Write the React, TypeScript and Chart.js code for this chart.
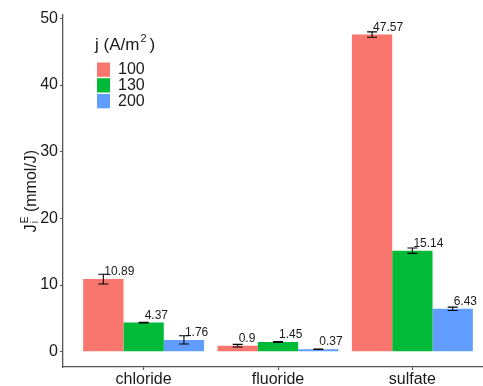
import React, { useEffect, useRef } from "react";
import { Chart, registerables } from "chart.js";

Chart.register(...registerables);

const categories = ["chloride", "fluoride", "sulfate"];
const densityLabels = ["100", "130", "200"];
const values100 = [10.89, 0.9, 47.57];
const values130 = [4.37, 1.45, 15.14];
const values200 = [1.76, 0.37, 6.43];
const errors100 = [0.73, 0.2, 0.4];
const errors130 = [0.05, 0.05, 0.4];
const errors200 = [0.62, 0.04, 0.25];
const yTicks = [0, 10, 20, 30, 40, 50];
const colors = ["#F8766D", "#00BA38", "#619CFF"];

const FONT = "'Liberation Sans', Arial, Helvetica, sans-serif";

const seriesValues = [values100, values130, values200];
const seriesErrors = [errors100, errors130, errors200];

type Part = { t: string; size: number; dy: number; stackWithNext?: boolean; gapAfter?: number };

function drawScripted(
  ctx: CanvasRenderingContext2D,
  parts: Part[],
  x: number,
  y: number,
  align: "left" | "center"
) {
  const widths: number[] = [];
  parts.forEach((p) => {
    ctx.font = `${p.size}px ${FONT}`;
    widths.push(ctx.measureText(p.t).width + (p.gapAfter ?? 0));
  });
  let total = 0;
  for (let i = 0; i < parts.length; i++) {
    if (parts[i].stackWithNext) {
      total += Math.max(widths[i], widths[i + 1]);
      i++;
    } else total += widths[i];
  }
  let cx = align === "center" ? x - total / 2 : x;
  ctx.textAlign = "left";
  ctx.textBaseline = "alphabetic";
  for (let i = 0; i < parts.length; i++) {
    const p = parts[i];
    ctx.font = `${p.size}px ${FONT}`;
    ctx.fillText(p.t, cx, y + p.dy);
    if (p.stackWithNext) {
      const q = parts[i + 1];
      ctx.font = `${q.size}px ${FONT}`;
      ctx.fillText(q.t, cx, y + q.dy);
      cx += Math.max(widths[i], widths[i + 1]);
      i++;
    } else cx += widths[i];
  }
}

const overlayPlugin = {
  id: "overlay",
  afterDatasetsDraw(chart: any) {
    const ctx: CanvasRenderingContext2D = chart.ctx;
    const y = chart.scales.y;
    ctx.save();
    seriesValues.forEach((vals, di) => {
      const meta = chart.getDatasetMeta(di);
      meta.data.forEach((el: any, i: number) => {
        const m = vals[i];
        const e = seriesErrors[di][i];
        const xp = el.x;
        const yt = y.getPixelForValue(m + e);
        const yb = y.getPixelForValue(m - e);
        ctx.strokeStyle = "#000";
        ctx.lineWidth = 1.1;
        ctx.beginPath();
        ctx.moveTo(xp, yt);
        ctx.lineTo(xp, yb);
        ctx.moveTo(xp - 5, yt);
        ctx.lineTo(xp + 5, yt);
        ctx.moveTo(xp - 5, yb);
        ctx.lineTo(xp + 5, yb);
        ctx.stroke();
        ctx.fillStyle = "#1a1a1a";
        ctx.font = `12px ${FONT}`;
        ctx.textAlign = "left";
        ctx.textBaseline = "alphabetic";
        ctx.fillText(String(m), xp + 1, y.getPixelForValue(m) - 4);
      });
    });
    ctx.restore();
  },
  afterDraw(chart: any) {
    const ctx: CanvasRenderingContext2D = chart.ctx;
    const area = chart.chartArea;
    ctx.save();
    ctx.fillStyle = "#1a1a1a";
    // y axis title
    ctx.translate(36, (area.top + area.bottom) / 2);
    ctx.rotate(-Math.PI / 2);
    drawScripted(
      ctx,
      [
        { t: "J", size: 16, dy: 0, gapAfter: 1 },
        { t: "E", size: 10, dy: -8.5, stackWithNext: true },
        { t: "i", size: 10, dy: 2 },
        { t: " (mmol/J)", size: 16, dy: 0 },
      ],
      0,
      0,
      "center"
    );
    ctx.restore();

    // legend
    ctx.save();
    ctx.fillStyle = "#1a1a1a";
    drawScripted(
      ctx,
      [
        { t: "j (A/m", size: 17, dy: 0, gapAfter: 1 },
        { t: "2", size: 11, dy: -7.5, gapAfter: 3 },
        { t: ")", size: 17, dy: 0 },
      ],
      95,
      49.5,
      "left"
    );
    const rowTops = [62.5, 78.2, 94];
    densityLabels.forEach((lab, i) => {
      ctx.fillStyle = colors[i];
      ctx.fillRect(97, rowTops[i], 13, 14.3);
      ctx.fillStyle = "#1a1a1a";
      ctx.font = `16px ${FONT}`;
      ctx.textAlign = "left";
      ctx.textBaseline = "middle";
      ctx.fillText(lab, 118, rowTops[i] + 7.5);
    });
    ctx.restore();
  },
};

export default function App() {
  const ref = useRef<HTMLCanvasElement>(null);
  useEffect(() => {
    if (!ref.current) return;
    Chart.defaults.font.family = FONT;
    const axisColor = "#555555";
    const chart = new Chart(ref.current, {
      type: "bar",
      data: {
        datasets: seriesValues.map((vals, di) => ({
          label: densityLabels[di],
          data: vals.map((v, i) => ({ x: i + 1, y: v })),
          backgroundColor: colors[di],
          borderWidth: 0,
          categoryPercentage: 0.9,
          barPercentage: 1.0,
        })),
      },
      options: {
        animation: false,
        responsive: false,
        maintainAspectRatio: false,
        layout: { padding: { left: 0, top: 15, right: 7, bottom: 0 } },
        plugins: {
          legend: { display: false },
          tooltip: { enabled: false },
        },
        scales: {
          x: {
            type: "linear",
            min: 0.4,
            max: 3.6,
            offset: false,
            afterBuildTicks: (scale: any) => {
              scale.ticks = categories.map((_, i) => ({ value: i + 1 }));
            },
            afterFit: (scale: any) => {
              scale.height = 19;
            },
            grid: {
              offset: false,
              drawOnChartArea: false,
              drawTicks: true,
              tickLength: 3,
              color: axisColor,
              tickWidth: 1.2,
            },
            border: { display: true, color: axisColor, width: 1.3 },
            ticks: {
              autoSkip: false,
              maxRotation: 0,
              padding: 0,
              color: "#1a1a1a",
              font: { size: 16, family: FONT },
              callback: (v: any) => categories[Math.round(Number(v)) - 1] ?? "",
            },
          },
          y: {
            type: "linear",
            min: -2.3,
            max: 50.5,
            afterBuildTicks: (scale: any) => {
              scale.ticks = yTicks.map((v) => ({ value: v }));
            },
            afterFit: (scale: any) => {
              scale.width = 63;
            },
            grid: {
              drawOnChartArea: false,
              drawTicks: true,
              tickLength: 3,
              color: axisColor,
              tickWidth: 1.2,
            },
            border: { display: true, color: axisColor, width: 1.3 },
            ticks: {
              padding: 2,
              color: "#1a1a1a",
              font: { size: 16, family: FONT },
            },
          },
        },
      } as any,
      plugins: [overlayPlugin],
    });
    return () => chart.destroy();
  }, []);
  return (
    <div
      style={{
        position: "fixed",
        left: 0,
        top: 0,
        width: 483,
        height: 386,
        overflow: "hidden",
        background: "#fff",
      }}
    >
      <canvas
        ref={ref}
        width={500}
        height={386}
        style={{ display: "block", width: 500, height: 386 }}
      />
    </div>
  );
}
